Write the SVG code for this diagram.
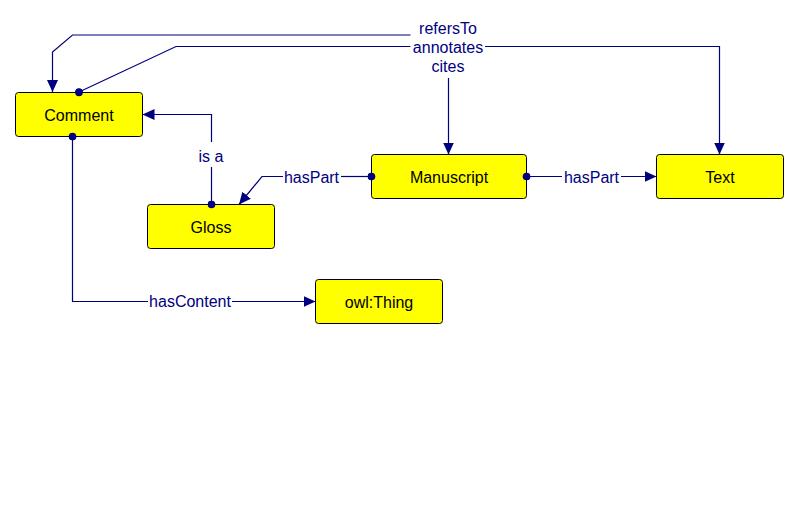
<svg xmlns="http://www.w3.org/2000/svg" width="799" height="526" viewBox="0 0 799 526">
<style>
.node rect{fill:#ffff00;stroke:#000;stroke-width:1}
.node text{font-family:"Liberation Sans",Arial,sans-serif;font-size:16px;fill:#000;text-anchor:middle}
.edge{fill:none;stroke:#000080;stroke-width:1.2}
.lbl{font-family:"Liberation Sans",Arial,sans-serif;font-size:16px;fill:#000080;text-anchor:middle}
</style>
<defs>
<marker id="arr" viewBox="0 0 12 11" refX="12" refY="5.5" markerWidth="12" markerHeight="11" markerUnits="userSpaceOnUse" orient="auto">
<path d="M0,0 L12,5.5 L0,11 z" fill="#000080"/>
</marker>
<marker id="dot" viewBox="0 0 8 8" refX="4" refY="4" markerWidth="8" markerHeight="8" markerUnits="userSpaceOnUse">
<circle cx="4" cy="4" r="3.8" fill="#000080"/>
</marker>
</defs>
<rect width="799" height="526" fill="#fff"/>
<g id="connectors">
<path class="edge" d="M410.5,35 L72.5,35 L52.5,52 L52.5,92" marker-end="url(#arr)"/>
<text class="lbl" x="448" y="33.5">refersTo</text>
<path class="edge" d="M79,92 L176,46.5 L410.5,46.5" marker-start="url(#dot)"/>
<path class="edge" d="M485,46.5 L719.5,46.5 L719.5,154.5" marker-end="url(#arr)"/>
<text class="lbl" x="448" y="53">annotates</text>
<path class="edge" d="M448.5,78 L448.5,154.5" marker-end="url(#arr)"/>
<text class="lbl" x="448" y="72">cites</text>
<path class="edge" d="M211.5,204.5 L211.5,167"  marker-start="url(#dot)"/>
<path class="edge" d="M211.5,142 L211.5,114.5 L142.5,114.5" marker-end="url(#arr)"/>
<text class="lbl" x="211" y="162">is a</text>
<path class="edge" d="M371.5,176.5 L341,176.5" marker-start="url(#dot)"/>
<path class="edge" d="M283,176.5 L262,176.5 L239,204.5" marker-end="url(#arr)"/>
<text class="lbl" x="311.5" y="182.5">hasPart</text>
<path class="edge" d="M526.5,176.5 L562,176.5" marker-start="url(#dot)"/>
<path class="edge" d="M621,176.5 L656.5,176.5" marker-end="url(#arr)"/>
<text class="lbl" x="591.5" y="182.5">hasPart</text>
<path class="edge" d="M72.5,136.5 L72.5,301.5 L148,301.5" marker-start="url(#dot)"/>
<path class="edge" d="M232,301.5 L315.5,301.5" marker-end="url(#arr)"/>
<text class="lbl" x="190" y="307">hasContent</text>
</g>
<g id="Comment" class="node"><rect x="15.5" y="92.5" width="127" height="44" rx="3"/><text x="79" y="121">Comment</text></g>
<g id="Gloss" class="node"><rect x="147.5" y="204.5" width="127" height="44" rx="3"/><text x="211" y="233">Gloss</text></g>
<g id="Manuscript" class="node"><rect x="371.5" y="154.5" width="155" height="44" rx="3"/><text x="449" y="183">Manuscript</text></g>
<g id="Text" class="node"><rect x="656.5" y="154.5" width="127" height="44" rx="3"/><text x="720" y="183">Text</text></g>
<g id="owlThing" class="node"><rect x="315.5" y="279.5" width="127" height="44" rx="3"/><text x="379" y="308">owl:Thing</text></g>
<circle cx="79" cy="92.5" r="3.8" fill="#000080"/>
<circle cx="211.5" cy="204.5" r="3.8" fill="#000080"/>
<circle cx="371.5" cy="176.5" r="3.8" fill="#000080"/>
<circle cx="526.5" cy="176.5" r="3.8" fill="#000080"/>
<circle cx="72.5" cy="136.5" r="3.8" fill="#000080"/>
</svg>
